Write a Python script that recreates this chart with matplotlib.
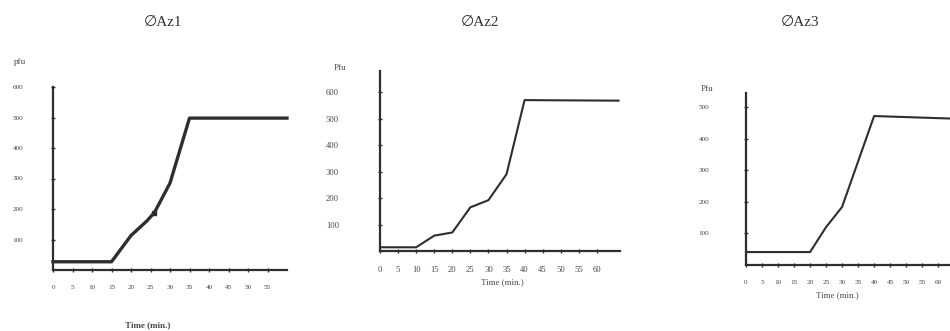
import matplotlib
matplotlib.use("Agg")
import matplotlib.pyplot as plt

plt.rcParams['font.family'] = ['Liberation Serif', 'DejaVu Sans']

W, H = 950, 331

# ── data (time in min, plaque-forming units) ──
titles = ['∅Az1', '∅Az2', '∅Az3']
ylabels = ['pfu', 'Pfu', 'Pfu']

az1_time = [0, 15, 20, 24, 26, 30, 35, 60]
az1_pfu = [27, 27, 113, 160, 188, 285, 498, 498]

az2_time = [0, 10, 15, 20, 25, 30, 35, 40, 66]
az2_pfu = [14, 14, 58, 70, 165, 192, 290, 570, 568]

az3_time = [0, 20, 25, 30, 40, 64]
az3_pfu = [41, 41, 120, 184, 472, 464]

x_ticks = [list(range(0, 60, 5)), list(range(0, 65, 5)), list(range(0, 65, 5))]
y_ticks = [[100, 200, 300, 400, 500, 600],
           [100, 200, 300, 400, 500, 600],
           [100, 200, 300, 400, 500]]

series = [(az1_time, az1_pfu), (az2_time, az2_pfu), (az3_time, az3_pfu)]

# ── layout in pixels: (left, right, bottom, top), xlim, ylim ──
boxes = [(53, 287, 270, 87), (380, 620, 251, 71), (746, 950, 265, 93)]
xlims = [(0, 60), (0, 66.4), (0, 63.7)]
ylims = [(0, 590), (0, 680), (0, 545)]
title_pos = [(163, 22), (480, 22), (800, 22)]
ylab_pos = [(20, 62), (340, 68), (707, 89)]
xlab_pos = [(148, 325), (502, 282), (837, 295)]
ypad = [20, 28, 25]
lws = [2.4, 1.5, 1.5]
tick_fs = [5.2, 6.2, 5.2]

ink = '#2e2e2e'
txt = '#4a4a4a'

fig = plt.figure(figsize=(W / 100, H / 100), dpi=100)
fig.patch.set_facecolor('white')

for i in range(3):
    l, r, b, t = boxes[i]
    ax = fig.add_axes([l / W, 1 - b / H, (r - l) / W, (b - t) / H])
    x, y = series[i]
    ax.plot(x, y, color=ink, lw=lws[i], solid_joinstyle='round', clip_on=False)
    if i == 0:
        ax.plot([x[4]], [y[4]], 's', color=ink, ms=3)
    ax.set_xlim(*xlims[i])
    ax.set_ylim(*ylims[i])
    for s in ['top', 'right']:
        ax.spines[s].set_visible(False)
    for s in ['left', 'bottom']:
        ax.spines[s].set_color(ink)
        ax.spines[s].set_linewidth(1.6)
    ax.set_xticks(x_ticks[i])
    ax.set_yticks(y_ticks[i])
    ax.tick_params(axis='x', direction='inout', length=3, width=1, color=ink,
                   labelsize=tick_fs[i], labelcolor=txt, pad=9)
    ax.tick_params(axis='y', direction='inout', length=3, width=1, color=ink,
                   labelsize=tick_fs[i], labelcolor=txt, pad=ypad[i])
    ax.patch.set_alpha(0)

    tx, ty = title_pos[i]
    fig.text(tx / W, 1 - ty / H, titles[i], ha='center', va='center',
             fontsize=11, color='#333333')
    lx, ly = ylab_pos[i]
    fig.text(lx / W, 1 - ly / H, ylabels[i], ha='center', va='center',
             fontsize=6.5, color=txt)
    xx, xy = xlab_pos[i]
    fig.text(xx / W, 1 - xy / H, 'Time (min.)', ha='center', va='center',
             fontsize=6.5, color=txt, fontweight='bold' if i == 0 else 'normal')

fig.savefig('out.png', dpi=100, facecolor='white')
